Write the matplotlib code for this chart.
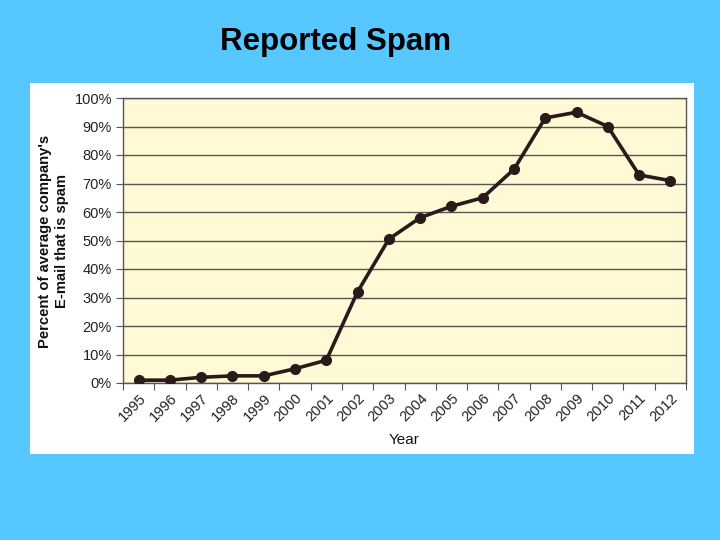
import matplotlib

matplotlib.use("Agg")
from matplotlib import pyplot as plt
from matplotlib.patches import Rectangle
from matplotlib.ticker import FuncFormatter

years = [str(y) for y in range(1995, 2013)]
spam_pct = [1, 1, 2, 2.5, 2.5, 5, 8, 32, 50.5, 58, 62, 65, 75, 93, 95, 90, 73, 71]
y_ticks = list(range(0, 101, 10))

plt.rcParams["font.family"] = ["Liberation Sans", "DejaVu Sans"]

fig = plt.figure(figsize=(7.2, 5.4), dpi=100)
fig.patch.set_facecolor("#57C7FF")

# white panel behind the chart
fig.patches.append(
    Rectangle((30 / 720, 1 - 454 / 540), 664 / 720, 371 / 540,
              transform=fig.transFigure, facecolor="white", edgecolor="none", zorder=-5)
)

fig.text(336 / 720, 1 - 42 / 540, "Reported Spam", ha="center", va="center",
         fontsize=22.5, fontweight="bold", color="black")

ax = fig.add_axes([123 / 720, 1 - 383 / 540, 563 / 720, 285 / 540])
ax.set_zorder(2)
ax.set_facecolor("#FFFAD5")

x = list(range(len(years)))
ax.plot(x, spam_pct, color="#2A1A1A", linewidth=2.6, marker="o",
        markersize=7, markerfacecolor="#2A1A1A", markeredgecolor="#2A1A1A", zorder=3)

ax.set_xlim(-0.5, len(years) - 0.5)
ax.set_ylim(0, 100)
ax.set_yticks(y_ticks)
ax.yaxis.set_major_formatter(FuncFormatter(lambda v, _: f"{int(v)}%"))
ax.grid(axis="y", color="#555555", linewidth=1.0)
ax.set_axisbelow(True)

# ticks at category boundaries, labels at category centres
ax.set_xticks([i - 0.5 for i in range(len(years) + 1)])
ax.set_xticklabels([])
ax.set_xticks(x, minor=True)
ax.set_xticklabels(years, minor=True, rotation=45, ha="right", rotation_mode="anchor",
                   fontsize=10.5, color="#222222")
ax.tick_params(axis="x", which="minor", length=0, pad=6)
ax.tick_params(axis="x", which="major", length=5, color="#555555")
ax.tick_params(axis="y", length=5, color="#555555", labelsize=10.5, labelcolor="#222222", pad=3)

for side in ["left", "bottom", "right", "top"]:
    ax.spines[side].set_color("#555555")
    ax.spines[side].set_linewidth(1.0)

ax.set_xlabel("Year", fontsize=11, color="#111111", labelpad=6)
fig.text(45 / 720, 1 - 241 / 540, "Percent of average company's", rotation=90,
         ha="center", va="center", fontsize=10.6, fontweight="bold", color="#111111")
fig.text(62 / 720, 1 - 241 / 540, "E-mail that is spam", rotation=90,
         ha="center", va="center", fontsize=10.6, fontweight="bold", color="#111111")

fig.savefig("out.png", dpi=100, facecolor=fig.get_facecolor())
